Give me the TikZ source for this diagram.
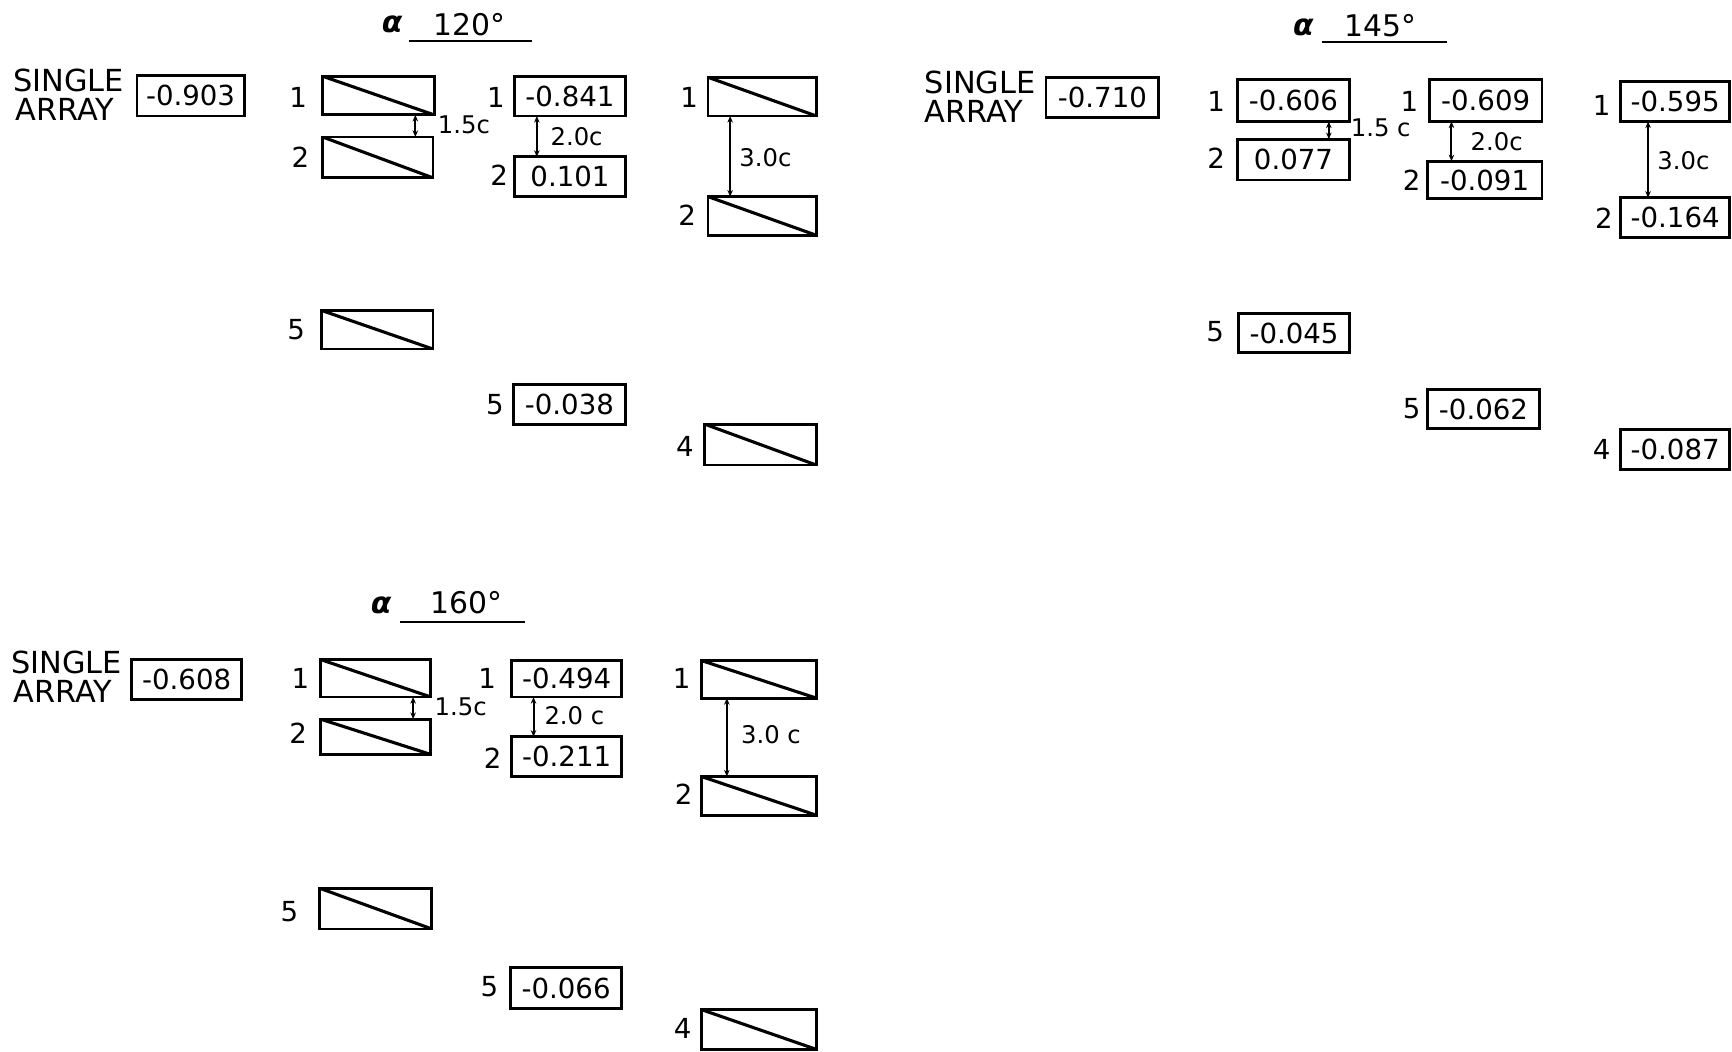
\documentclass[tikz,border=0pt]{standalone}
\usepackage{fontspec}
\setmainfont{DejaVu Sans}
\usetikzlibrary{arrows.meta}
\tikzset{
  base/.style={draw, line width=2.6pt, rectangle, inner sep=0pt, outer sep=0pt},
  valbox/.style={base, font=\fontsize{25}{27}\selectfont},
  diagbox/.style={base, path picture={\draw[line width=2.8pt] (path picture bounding box.north west) -- (path picture bounding box.south east);}},
  lbl/.style={inner sep=0pt, font=\fontsize{25}{27}\selectfont},
  dimtxt/.style={inner sep=0pt, font=\fontsize{22}{24}\selectfont},
  sgl/.style={inner sep=0pt, anchor=west, font=\fontsize{27.5}{29}\selectfont},
  ttl/.style={inner sep=0pt, font=\fontsize{27}{29}\selectfont},
  alf/.style={inner sep=0pt, font=\fontsize{27}{29}\selectfont\bfseries\itshape},
  uline/.style={line width=2.4pt},
  dim/.style={line width=1.8pt, {Stealth[length=6pt,width=5pt]}-{Stealth[length=6pt,width=5pt]}}
}
\newcommand{\mybox}[7][valbox]{\node[#1, minimum width={(#5-#3)*1pt}, minimum height={(#6-#4)*1pt}] (#2) at ({(#3+#5)/2},{(#4+#6)/2}) {#7};}
\begin{document}
\begin{tikzpicture}[x=1pt,y=-1pt]
\useasboundingbox[fill=white] (0,0) rectangle (1568,952);

% ===== Panel 120 =====
\node[alf] (alA) at (355,22) {α};
\node[ttl] (tA) at (425,22) {120°};
\coordinate (uA1) at (370,37); \coordinate (uA2) at (482,37);
\draw[uline] (uA1) -- (uA2);
\node[sgl] (sgA1) at (12,73) {SINGLE};
\node[sgl] (sgA2) at (14,99) {ARRAY};
\mybox{sA}{124}{68}{221}{105}{-0.903}
% col 1
\node[lbl] (lA11) at (270,88) {1};
\mybox[diagbox]{a11}{292}{69}{393}{104}{}
\node[lbl] (lA12) at (272,142) {2};
\mybox[diagbox]{a12}{292}{124}{392}{161}{}
\draw[dim] ([xshift=84pt]a11.south west) -- ([xshift=84pt]a11.south west |- a12.north);
\node[dimtxt] (dA1) at (420,113) {1.5c};
% col 2
\node[lbl] (lA21) at (449,88) {1};
\mybox{a21}{466}{69}{566}{105}{-0.841}
\node[lbl] (lA22) at (452,159) {2};
\mybox{a22}{466}{142}{566}{178}{0.101}
\draw[dim] ([xshift=20pt]a21.south west) -- ([xshift=20pt]a21.south west |- a22.north);
\node[dimtxt] (dA2) at (522,124) {2.0c};
% col 3
\node[lbl] (lA31) at (624,88) {1};
\mybox[diagbox]{a31}{641}{70}{739}{105}{}
\node[lbl] (lA32) at (622,195) {2};
\mybox[diagbox]{a32}{641}{178}{739}{213}{}
\draw[dim] ([xshift=20pt]a31.south west) -- ([xshift=20pt]a31.south west |- a32.north);
\node[dimtxt] (dA3) at (693,143) {3.0c};
% lower
\node[lbl] (lA15) at (268,298) {5};
\mybox[diagbox]{a15}{291}{281}{392}{316}{}
\node[lbl] (lA25) at (448,366) {5};
\mybox{a25}{465}{348}{566}{384}{-0.038}
\node[lbl] (lA34) at (620,404) {4};
\mybox[diagbox]{a34}{638}{384}{739}{421}{}

% ===== Panel 145 =====
\node[alf] (alB) at (1180,25) {α};
\node[ttl] (tB) at (1250,23) {145°};
\coordinate (uB1) at (1197,38); \coordinate (uB2) at (1310,38);
\draw[uline] (uB1) -- (uB2);
\node[sgl] (sgB1) at (837,75) {SINGLE};
\node[sgl] (sgB2) at (837,101) {ARRAY};
\mybox{sB}{947}{70}{1049}{106}{-0.710}
% col 1
\node[lbl] (lB11) at (1101,92) {1};
\mybox{b11}{1120}{72}{1222}{110}{-0.606}
\node[lbl] (lB12) at (1101,143) {2};
\mybox{b12}{1120}{126}{1222}{163}{0.077}
\draw[dim] ([xshift=83pt]b11.south west) -- ([xshift=83pt]b11.south west |- b12.north);
\node[dimtxt] (dB1) at (1250,116) {1.5 c};
% col 2
\node[lbl] (lB21) at (1276,92) {1};
\mybox{b21}{1294}{72}{1396}{110}{-0.609}
\node[lbl] (lB22) at (1278,163) {2};
\mybox{b22}{1292}{146}{1396}{180}{-0.091}
\draw[dim] ([xshift=20pt]b21.south west) -- ([xshift=20pt]b21.south west |- b22.north);
\node[dimtxt] (dB2) at (1355,128) {2.0c};
% col 3
\node[lbl] (lB31) at (1450,95) {1};
\mybox{b31}{1467}{74}{1566}{110}{-0.595}
\node[lbl] (lB32) at (1452,198) {2};
\mybox{b32}{1467}{179}{1566}{215}{-0.164}
\draw[dim] ([xshift=25pt]b31.south west) -- ([xshift=25pt]b31.south west |- b32.north);
\node[dimtxt] (dB3) at (1524,145) {3.0c};
% lower
\node[lbl] (lB15) at (1100,300) {5};
\mybox{b15}{1121}{284}{1222}{319}{-0.045}
\node[lbl] (lB25) at (1278,370) {5};
\mybox{b25}{1292}{353}{1394}{388}{-0.062}
\node[lbl] (lB34) at (1450,407) {4};
\mybox{b34}{1467}{389}{1566}{425}{-0.087}

% ===== Panel 160 =====
\node[alf] (alC) at (345,548) {α};
\node[ttl] (tC) at (422,546) {160°};
\coordinate (uC1) at (362,563); \coordinate (uC2) at (475,563);
\draw[uline] (uC1) -- (uC2);
\node[sgl] (sgC1) at (10,600) {SINGLE};
\node[sgl] (sgC2) at (12,626) {ARRAY};
\mybox{sC}{119}{597}{219}{633}{-0.608}
% col 1
\node[lbl] (lC11) at (272,614) {1};
\mybox[diagbox]{c11}{290}{597}{390}{631}{}
\node[lbl] (lC12) at (270,664) {2};
\mybox[diagbox]{c12}{290}{651}{390}{683}{}
\draw[dim] ([xshift=84pt]c11.south west) -- ([xshift=84pt]c11.south west |- c12.north);
\node[dimtxt] (dC1) at (417,640) {1.5c};
% col 2
\node[lbl] (lC21) at (441,614) {1};
\mybox{c21}{463}{598}{563}{631}{-0.494}
\node[lbl] (lC22) at (446,686) {2};
\mybox{c22}{463}{667}{563}{703}{-0.211}
\draw[dim] ([xshift=20pt]c21.south west) -- ([xshift=20pt]c21.south west |- c22.north);
\node[dimtxt] (dC2) at (520,648) {2.0 c};
% col 3
\node[lbl] (lC31) at (617,614) {1};
\mybox[diagbox]{c31}{635}{598}{739}{632}{}
\node[lbl] (lC32) at (619,719) {2};
\mybox[diagbox]{c32}{635}{703}{739}{738}{}
\draw[dim] ([xshift=23pt]c31.south west) -- ([xshift=23pt]c31.south west |- c32.north);
\node[dimtxt] (dC3) at (698,665) {3.0 c};
% lower
\node[lbl] (lC15) at (262,825) {5};
\mybox[diagbox]{c15}{289}{804}{391}{841}{}
\node[lbl] (lC25) at (443,893) {5};
\mybox{c25}{462}{876}{563}{913}{-0.066}
\node[lbl] (lC34) at (618,931) {4};
\mybox[diagbox]{c34}{635}{914}{739}{950}{}
\end{tikzpicture}
\end{document}
